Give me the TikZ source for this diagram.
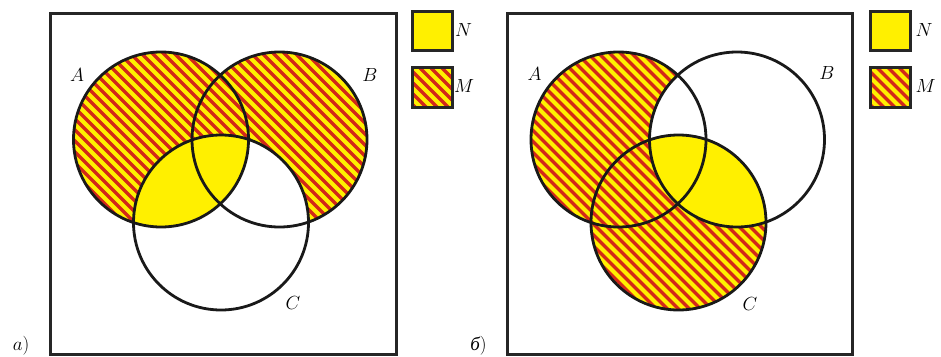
\RequirePackage{fix-cm}
\documentclass[tikz,border=0pt]{standalone}
\usepackage{fontspec}
\newfontfamily\cyrfont{Liberation Serif}
\definecolor{vyellow}{RGB}{255,240,0}
\definecolor{vred}{RGB}{210,40,25}
\tikzset{
  frame/.style={draw=black!85,line width=3pt},
  circ/.style={draw=black!90,line width=2.8pt},
  lbl/.style={font=\fontsize{19}{22}\selectfont,inner sep=0pt},
  stripe/.style={vred,line width=3.4pt},
}
% yellow ground with red diagonal stripes (used inside a clip)
\newcommand\stripes{%
  \fill[vyellow] (0,0) rectangle (480,360);
  \foreach \k in {-363,-352,...,480} {\draw[stripe] (\k,0) -- ++(360,360);}}
\newcommand\rad{87.5pt}

\begin{document}
\begin{tikzpicture}[x=1pt,y=-1pt]
  \useasboundingbox (0,0) rectangle (941,356);
  % panel a
  \begin{scope}
    \coordinate (A) at (161,139.5);
    \coordinate (B) at (279.5,139.5);
    \coordinate (C) at (221,222.5);
    \begin{scope}
      \clip (A) circle[radius=\rad] (B) circle[radius=\rad];
      \stripes
    \end{scope}
    \begin{scope}
      \clip (B) circle[radius=\rad];
      \fill[white] (C) circle[radius=\rad];
    \end{scope}
    \begin{scope}
      \clip (A) circle[radius=\rad];
      \fill[vyellow] (C) circle[radius=\rad];
    \end{scope}
    \foreach \c in {A,B,C} {\draw[circ] (\c) circle[radius=\rad];}
    \draw[frame] (50,13) rectangle (396,354);
    \node[lbl] (labA) at (77,75) {$A$};
    \node[lbl] (labB) at (370,75) {$B$};
    \node[lbl] (labC) at (293,303) {$C$};
    \node[lbl] (tagA) at (21,346) {$a$)};
    % legend
    \fill[vyellow] (412,11) rectangle (452,50);
    \draw[frame] (412,11) rectangle (452,50);
    \begin{scope}
      \clip (412,67) rectangle (452,107);
      \stripes
    \end{scope}
    \draw[frame] (412,67) rectangle (452,107);
    \node[lbl,anchor=west] (legN) at (455,30) {$N$};
    \node[lbl,anchor=west] (legM) at (454,86) {$M$};
  \end{scope}
  % panel b
  \begin{scope}[xshift=457.5pt]
    \coordinate (A) at (161,139.5);
    \coordinate (B) at (279.5,139.5);
    \coordinate (C) at (221,222.5);
    \begin{scope}
      \clip (A) circle[radius=\rad] (C) circle[radius=\rad];
      \stripes
    \end{scope}
    \fill[white] (B) circle[radius=\rad];
    \begin{scope}
      \clip (B) circle[radius=\rad];
      \fill[vyellow] (C) circle[radius=\rad];
    \end{scope}
    \foreach \c in {A,B,C} {\draw[circ] (\c) circle[radius=\rad];}
    \draw[frame] (50,13) rectangle (394.5,354);
    \node[lbl] (labA) at (77,74) {$A$};
    \node[lbl] (labB) at (369.5,73) {$B$};
    \node[lbl] (labC) at (292.5,304) {$C$};
    \node[lbl] (tagB) at (21,346) {{\cyrfont\itshape б})};
    % legend
    \fill[vyellow] (412.5,11) rectangle (452.5,50);
    \draw[frame] (412.5,11) rectangle (452.5,50);
    \begin{scope}
      \clip (412.5,67) rectangle (452.5,107);
      \stripes
    \end{scope}
    \draw[frame] (412.5,67) rectangle (452.5,107);
    \node[lbl,anchor=west] (legN) at (458,30) {$N$};
    \node[lbl,anchor=west] (legM) at (458,86) {$M$};
  \end{scope}
\end{tikzpicture}
\end{document}
